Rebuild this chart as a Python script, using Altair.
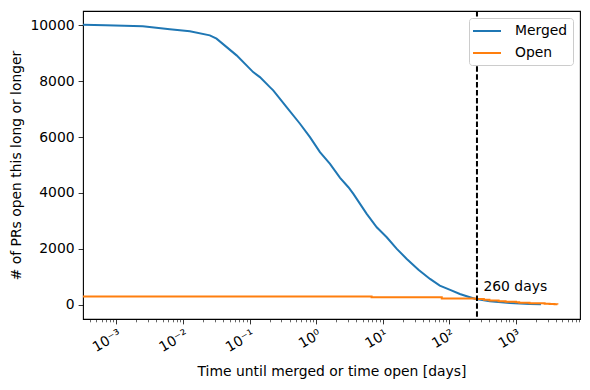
import altair as alt
import pandas as pd

# ---- data ----
merged_days = [3.15e-4, 6.84e-4, 2.49e-3, 6.34e-3, 0.01268, 0.0253, 0.0319, 0.0638,
               0.1132, 0.1429, 0.2018, 0.2265, 0.3597, 0.5715, 0.807, 1.140, 1.614,
               2.286, 3.048, 3.622, 5.741, 8.128, 11.48, 16.26, 22.96, 34.36, 51.29,
               71.94, 102.8, 143.9, 182.8, 241.5, 405.5, 812.8, 1622, 2377]
merged_count = [10020, 10000, 9964, 9857, 9785, 9642, 9523, 8925,
                8326, 8147, 7789, 7670, 7072, 6477, 5997, 5459, 5043,
                4540, 4204, 3968, 3251, 2771, 2412, 1996, 1638, 1250, 921,
                681, 530, 383, 300, 210, 118, 61, 25, 11]

open_days = [3.15e-4, 6.8, 77, 251, 330, 400, 550, 700, 1000, 1120, 1600, 2200, 2700, 3200, 3800, 4200]
open_count = [290, 265, 225, 200, 175, 145, 125, 108, 85, 72, 55, 47, 35, 25, 15, 5]

cutoff_days = [260]
cutoff_label = ["260 days"]
label_x = [325]
label_y = [500]

major_ticks = [1e-3, 1e-2, 1e-1, 1e0, 1e1, 1e2, 1e3]
minor_ticks = [m * 10.0 ** k for k in range(-4, 4) for m in range(2, 10)
               if 3.15e-4 <= m * 10.0 ** k <= 9170]
y_ticks = [0, 2000, 4000, 6000, 8000, 10000]

series = ["Merged", "Open"]
colors = ["#1f77b4", "#ff7f0e"]

merged_df = pd.DataFrame({"days": merged_days, "count": merged_count, "series": "Merged"})
open_df = pd.DataFrame({"days": open_days, "count": open_count, "series": "Open"})
rule_df = pd.DataFrame({"days": cutoff_days})
text_df = pd.DataFrame({"days": label_x, "count": label_y, "label": cutoff_label})

FONT = "DejaVu Sans"
FS = 13.9

xscale = alt.Scale(type="log", domain=[3.15e-4, 9170], nice=False)
yscale = alt.Scale(domain=[-513, 10513], nice=False, zero=False)

EXP = "round(log(datum.value)/LN10)"
IS_MAJOR = f"abs(log(datum.value)/LN10 - {EXP}) < 0.01"
label_expr = (f"!({IS_MAJOR}) ? '' : "
              f"{EXP} == -3 ? '10⁻³' : "
              f"{EXP} == -2 ? '10⁻²' : "
              f"{EXP} == -1 ? '10⁻¹' : "
              f"{EXP} == 0 ? '10⁰' : "
              f"{EXP} == 1 ? '10¹' : "
              f"{EXP} == 2 ? '10²' : '10³'")

xaxis = alt.Axis(values=sorted(major_ticks + minor_ticks), labelExpr=label_expr,
                 title="Time until merged or time open [days]",
                 labelAngle=-30, labelAlign="right", labelBaseline="top",
                 tickSize={"condition": {"test": IS_MAJOR, "value": 4.9}, "value": 2.8},
                 tickWidth={"condition": {"test": IS_MAJOR, "value": 0.8}, "value": 0.6},
                 tickColor="black", labelPadding=3,
                 labelFontSize=FS, labelFont=FONT, labelColor="black",
                 titleFontSize=FS, titleFont=FONT, titleFontWeight="normal",
                 titleColor="black", titlePadding=10, grid=False, domain=False,
                 labelFlush=False, labelOverlap=False)

yaxis = alt.Axis(values=y_ticks, format="d", title="# of PRs open this long or longer",
                 tickSize=4.9, tickWidth=0.8, tickColor="black", labelPadding=4,
                 labelFontSize=FS, labelFont=FONT, labelColor="black",
                 titleFontSize=FS, titleFont=FONT, titleFontWeight="normal",
                 titleColor="black", titlePadding=6, grid=False, domain=False,
                 labelFlush=False)

color = alt.Color("series:N", scale=alt.Scale(domain=series, range=colors),
                  legend=alt.Legend(title=None, orient="top-right", offset=7,
                                    symbolType="M-2,0H2", symbolSize=196,
                                    symbolStrokeWidth=2, symbolOffset=5,
                                    labelFontSize=FS, labelFont=FONT, labelColor="black",
                                    fillColor="white", strokeColor="#cccccc",
                                    cornerRadius=3, padding=5, rowPadding=7,
                                    labelOffset=20))

merged_line = alt.Chart(merged_df).mark_line(strokeWidth=2, clip=True).encode(
    x=alt.X("days:Q", scale=xscale, axis=xaxis),
    y=alt.Y("count:Q", scale=yscale, axis=yaxis),
    color=color,
)
open_line = alt.Chart(open_df).mark_line(strokeWidth=2, clip=True,
                                         interpolate="step-after").encode(
    x=alt.X("days:Q", scale=xscale),
    y=alt.Y("count:Q", scale=yscale),
    color=color,
)
rule = alt.Chart(rule_df).mark_rule(color="black", strokeWidth=2,
                                    strokeDash=[5.5, 2.4]).encode(
    x=alt.X("days:Q", scale=xscale),
)
text = alt.Chart(text_df).mark_text(align="left", baseline="alphabetic",
                                    font=FONT, fontSize=FS, color="black").encode(
    x=alt.X("days:Q", scale=xscale),
    y=alt.Y("count:Q", scale=yscale),
    text="label:N",
)

chart = alt.layer(merged_line, open_line, rule, text).properties(
    width=497, height=308,
    autosize=alt.AutoSizeParams(type="none"),
    padding={"left": 75, "top": 3, "right": 2, "bottom": 63},
).configure_view(stroke="black", strokeWidth=1.1)

chart.save("out.html", embed_options={"renderer": "svg", "actions": False})
